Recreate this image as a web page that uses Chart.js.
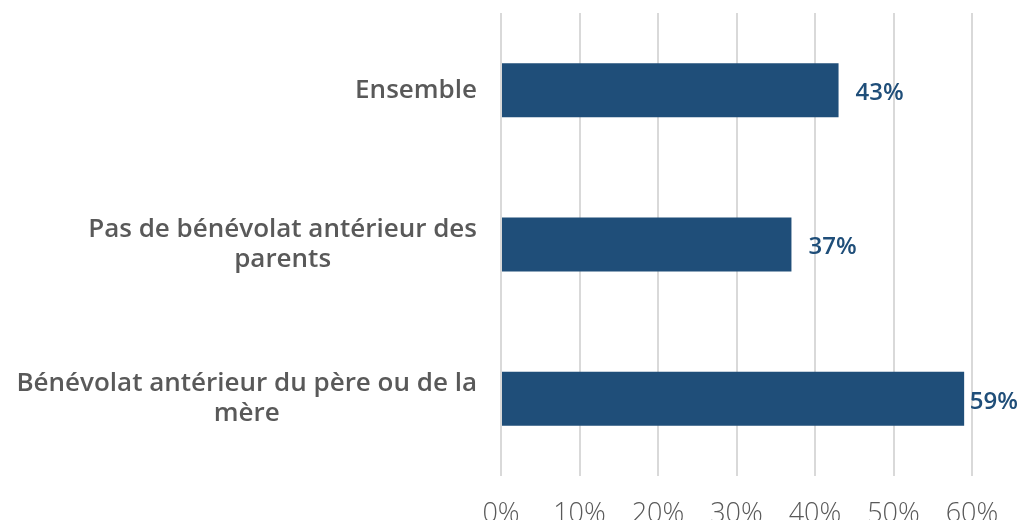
<!DOCTYPE html>
<html>
<head>
<meta charset="utf-8">
<script src="https://cdn.jsdelivr.net/npm/chart.js@4"></script>
<style>
  html, body { margin: 0; padding: 0; background: #fff; overflow: hidden; }
  #wrap { width: 1021px; height: 520px; }
</style>
</head>
<body>
<div id="wrap"><canvas id="chart" width="1021" height="520"></canvas></div>
<script>
// data
const categories = [
  ["Ensemble"],
  ["Pas de bénévolat antérieur des", "parents"],
  ["Bénévolat antérieur du père ou de la", "mère"]
];
const values = [43, 37, 59];
const xTicks = [0, 10, 20, 30, 40, 50, 60];

const barColor = "#1f4e79";
const textGray = "#595959";
const gridGray = "#d9d9d9";
const fontFamily = "'Open Sans', sans-serif";

// draws the "43%" style labels to the right of each bar
const valueLabels = {
  id: "valueLabels",
  afterDatasetsDraw(chart) {
    const ctx = chart.ctx;
    const meta = chart.getDatasetMeta(0);
    ctx.save();
    ctx.font = "600 24px " + fontFamily;
    ctx.fillStyle = barColor;
    ctx.textBaseline = "middle";
    ctx.textAlign = "left";
    meta.data.forEach((bar, i) => {
      const txt = values[i] + "%";
      const w = ctx.measureText(txt).width;
      let x = bar.x + 17;
      if (x + w > chart.width - 3) x = chart.width - 3 - w;
      ctx.fillText(txt, x, bar.y + 3);
    });
    ctx.restore();
  }
};

// category labels: block right-aligned against the axis, lines centred inside the block
const categoryLabels = {
  id: "categoryLabels",
  afterDraw(chart) {
    const ctx = chart.ctx;
    const yScale = chart.scales.y;
    const right = chart.chartArea.left - 24;
    const lineH = 30;
    ctx.save();
    ctx.font = "600 26px " + fontFamily;
    ctx.fillStyle = textGray;
    ctx.textBaseline = "middle";
    ctx.textAlign = "center";
    categories.forEach((lines, i) => {
      const y = yScale.getPixelForTick(i);
      const blockW = Math.max(...lines.map(l => ctx.measureText(l).width));
      const cx = right - blockW / 2;
      const y0 = y - (lines.length - 1) * lineH / 2;
      lines.forEach((l, j) => ctx.fillText(l, cx, y0 + j * lineH));
    });
    ctx.restore();
  }
};

const ctx = document.getElementById("chart").getContext("2d");
new Chart(ctx, {
  type: "bar",
  data: {
    labels: categories,
    datasets: [{
      data: values,
      backgroundColor: barColor,
      borderWidth: 0,
      categoryPercentage: 1,
      barPercentage: 0.35
    }]
  },
  options: {
    indexAxis: "y",
    responsive: false,
    animation: false,
    layout: { padding: { top: 13, right: 49, left: 0, bottom: 0 } },
    plugins: {
      legend: { display: false },
      tooltip: { enabled: false }
    },
    scales: {
      x: {
        min: 0,
        max: 60,
        afterBuildTicks: (scale) => { scale.ticks = xTicks.map(v => ({ value: v })); },
        afterFit: (scale) => { scale.height = 44; },
        grid: { color: gridGray, lineWidth: 2, drawTicks: false },
        border: { display: false },
        ticks: {
          padding: 22,
          color: textGray,
          font: { family: fontFamily, size: 27, weight: "300" },
          callback: (v) => v + "%"
        }
      },
      y: {
        afterFit: (scale) => {
          scale.width = 501;
          scale.paddingTop = 0;
          scale.paddingBottom = 0;
        },
        grid: { display: false, drawTicks: false },
        border: { display: false },
        ticks: { display: false }
      }
    }
  },
  plugins: [valueLabels, categoryLabels]
});
</script>
</body>
</html>
